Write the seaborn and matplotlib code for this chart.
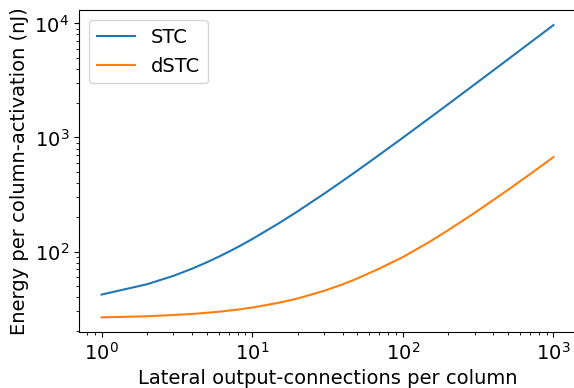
import matplotlib
matplotlib.use("Agg")
import matplotlib.pyplot as plt
import seaborn as sns
import pandas as pd

# Lateral output-connections per column
connections = [1, 2, 3, 4, 5, 6, 7, 8, 9, 10, 15, 20, 30, 40, 50, 70,
               100, 150, 200, 300, 500, 700, 1000]
# Energy per column-activation (nJ)
stc_energy = [42.0, 51.7, 61.3, 70.9, 80.6, 90.2, 99.8, 109.4, 119.1, 128.7,
              176.9, 225.0, 321.3, 417.6, 513.9, 706.5, 995, 1477, 1958,
              2921, 4848, 6773, 9662]
dstc_energy = [26.5, 27.1, 27.8, 28.4, 29.1, 29.7, 30.4, 31.0, 31.7, 32.3,
               35.6, 38.8, 45.3, 51.7, 58.2, 71.1, 89.5, 121.5, 154.0,
               218.5, 348.0, 477.5, 672.9]
series_names = ["STC", "dSTC"]

df = pd.concat([
    pd.DataFrame({"n": connections, "energy": stc_energy, "model": series_names[0]}),
    pd.DataFrame({"n": connections, "energy": dstc_energy, "model": series_names[1]}),
])

plt.rcParams["font.family"] = ["DejaVu Sans"]

fig = plt.figure(figsize=(5.74, 3.88), dpi=100)
ax = fig.add_axes([79 / 574, 56 / 388, 497 / 574, 321.5 / 388])

sns.lineplot(data=df, x="n", y="energy", hue="model",
             palette=["#1f77b4", "#ff7f0e"], linewidth=1.5, ax=ax)
ax.set_xscale("log")
ax.set_yscale("log")
ax.set_xlim(10 ** -0.15, 10 ** 3.15)

ax.set_xlabel("Lateral output-connections per column", fontsize=14)
ax.set_ylabel("Energy per column-activation (nJ)", fontsize=14)
ax.tick_params(axis="both", which="major", labelsize=14)
ax.legend(loc="upper left", fontsize=14, title=None)

fig.savefig("out.png", dpi=100)
